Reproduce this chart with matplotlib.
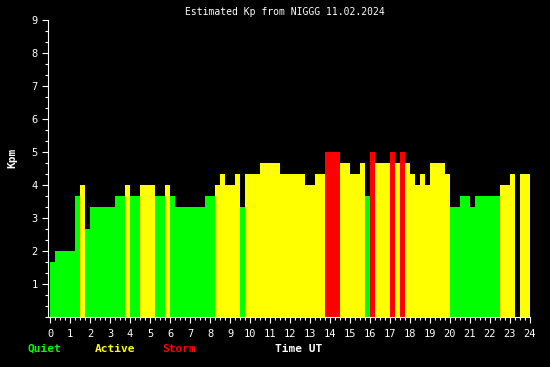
import numpy as np
import matplotlib
matplotlib.use('Agg')
import matplotlib.pyplot as plt
from matplotlib.ticker import MultipleLocator

# Estimated Kp, one value per 15 minutes (00:00 .. 23:45 UT)
kp = [1.67, 2.0, 2.0, 2.0, 2.0, 3.67, 4.0, 2.67,
      3.33, 3.33, 3.33, 3.33, 3.33, 3.67, 3.67, 4.0,
      3.67, 3.67, 4.0, 4.0, 4.0, 3.67, 3.67, 4.0,
      3.67, 3.33, 3.33, 3.33, 3.33, 3.33, 3.33, 3.67,
      3.67, 4.0, 4.33, 4.0, 4.0, 4.33, 3.33, 4.33,
      4.33, 4.33, 4.67, 4.67, 4.67, 4.67, 4.33, 4.33,
      4.33, 4.33, 4.33, 4.0, 4.0, 4.33, 4.33, 5.0,
      5.0, 5.0, 4.67, 4.67, 4.33, 4.33, 4.67, 3.67,
      5.0, 4.67, 4.67, 4.67, 5.0, 4.67, 5.0, 4.67,
      4.33, 4.0, 4.33, 4.0, 4.67, 4.67, 4.67, 4.33,
      3.33, 3.33, 3.67, 3.67, 3.33, 3.67, 3.67, 3.67,
      3.67, 3.67, 4.0, 4.0, 4.33, 0.0, 4.33, 4.33]
hours = np.arange(len(kp)) * 0.25
title = 'Estimated Kp from NIGGG 11.02.2024'

GREEN, YELLOW, RED = '#00ff00', '#ffff00', '#ff0000'
colors = [RED if v >= 5 else YELLOW if v >= 4 else GREEN for v in kp]

mono = 'DejaVu Sans Mono'
fig = plt.figure(figsize=(5.5, 3.67), dpi=100, facecolor='black')
ax = fig.add_axes([48 / 550, 50 / 367, 482 / 550, 297 / 367], facecolor='black')

ax.bar(hours, kp, width=0.25, align='edge', color=colors, linewidth=0,
       antialiased=False)

ax.set_xlim(-0.1, 24)
ax.set_ylim(0, 9)
for s in ['top', 'right']:
    ax.spines[s].set_visible(False)
for s in ['left', 'bottom']:
    ax.spines[s].set_color('white')
    ax.spines[s].set_linewidth(0.8)

ax.set_xticks(range(0, 25))
ax.xaxis.set_minor_locator(MultipleLocator(0.25))
ax.set_yticks(range(1, 10))
ax.yaxis.set_minor_locator(MultipleLocator(1 / 3))
ax.tick_params(colors='white', labelsize=7.5, width=0.8)
ax.tick_params(which='major', length=4.5)
ax.tick_params(axis='x', which='major', pad=4)
ax.tick_params(axis='y', which='major', pad=3)
ax.tick_params(which='minor', length=2.2, color='white', width=0.8)
for lab in ax.get_xticklabels() + ax.get_yticklabels():
    lab.set_family(mono)

fig.text(285 / 550, 1 - 12 / 367, title, color='white', family=mono,
         fontsize=7, ha='center', va='center')
fig.text(12 / 550, 1 - 158 / 367, 'Kpm', color='white', family=mono,
         fontsize=8, fontweight='bold', rotation=90, ha='center', va='center')

y_leg = 1 - 349 / 367
fig.text(28 / 550, y_leg, 'Quiet', color=GREEN, family=mono, fontsize=8,
         fontweight='bold', ha='left', va='center')
fig.text(95 / 550, y_leg, 'Active', color=YELLOW, family=mono, fontsize=8,
         fontweight='bold', ha='left', va='center')
fig.text(162 / 550, y_leg, 'Storm', color=RED, family=mono, fontsize=8,
         fontweight='bold', ha='left', va='center')
fig.text(275 / 550, y_leg, 'Time UT', color='white', family=mono, fontsize=8,
         fontweight='bold', ha='left', va='center')

fig.savefig('out.png', dpi=100, facecolor='black')
